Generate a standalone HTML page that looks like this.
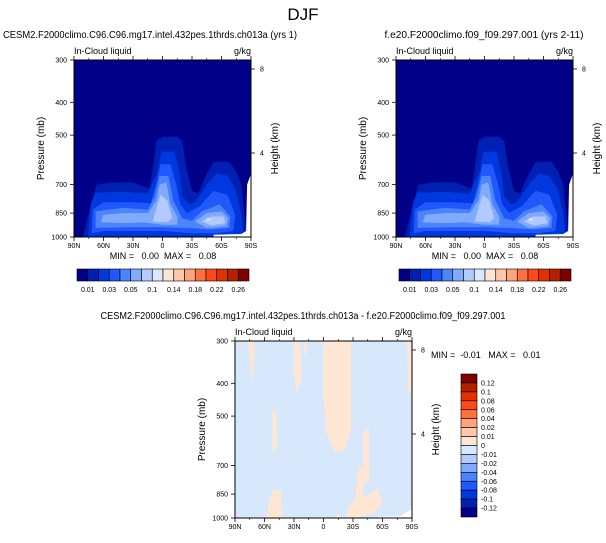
<!DOCTYPE html>
<html><head><meta charset="utf-8"><style>
body{margin:0;background:#fff;width:606px;height:538px;overflow:hidden}
svg text{font-family:"Liberation Sans",Arial,sans-serif;fill:#000}
.pre{white-space:pre}
</style></head><body>
<svg id="s" width="606" height="538" xmlns="http://www.w3.org/2000/svg">
<text x="303" y="20" font-size="17" text-anchor="middle">DJF</text>
</svg>
<script>
// colour scales
const absTickLabels=["0.01","0.03","0.05","0.1","0.14","0.18","0.22","0.26"];
const diffLabels=["0.12","0.1","0.08","0.06","0.04","0.02","0.01","0","-0.01","-0.02","-0.04","-0.06","-0.08","-0.1","-0.12"];
const palette=["#000088","#0020b4","#0038e0","#2058fc","#4c84fc","#82aafc","#b2cafe","#d8e8fe","#fee4d2","#fec6aa","#fea47a","#fe7040","#fe4a18","#e03200","#b42000","#800000"];
const latTicks=["90N","60N","30N","0","30S","60S","90S"];
const latVals=[90,60,30,0,-30,-60,-90];
const presTicks=[300,400,500,700,850,1000];
const heightTicks=[8,4];
// contour regions of the climatology: [lat, pressure] points, level index into palette
const fieldLevels=[1,2,3,4,5,5,6,6,7];
const fieldShapes=[
[[81,1000],[75,850],[67,700],[50,690],[30,690],[13,720],[9,600],[6,520],[0,505],[-15,505],[-20,520],[-24,620],[-30,730],[-36,745],[-45,650],[-52,600],[-68,600],[-75,640],[-80,700],[-84,900],[-86,1000]],
[[76,1000],[73,800],[68,740],[40,735],[15,745],[5,640],[1,560],[-12,560],[-17,640],[-20,760],[-28,800],[-33,790],[-45,700],[-55,650],[-66,660],[-74,720],[-80,850],[-82,960],[-80,995],[-40,995],[20,995],[60,995]],
[[72,975],[71,830],[60,790],[30,790],[12,795],[6,690],[2,610],[-8,610],[-14,700],[-18,800],[-25,850],[-38,810],[-52,730],[-66,750],[-74,860],[-72,960],[-55,975],[-30,975],[0,960],[30,960],[60,960]],
[[68,940],[68,840],[40,820],[15,830],[8,760],[3,660],[-6,660],[-11,780],[-20,880],[-30,895],[-40,840],[-58,800],[-69,870],[-68,940],[-50,950],[-25,940],[0,935],[30,935]],
[[63,905],[60,860],[40,850],[15,850],[6,780],[3,700],[-4,690],[-8,800],[-15,870],[-15,920],[0,920],[20,905],[40,910]],
[[-33,900],[-45,850],[-60,840],[-67,880],[-65,930],[-45,940]],
[[10,900],[6,820],[2,750],[-5,780],[-10,880],[-5,905]],
[[-40,900],[-50,870],[-62,870],[-64,910],[-50,925]],
[[-45,880],[-49,880],[-49,895],[-45,895]]
];
const missingShape=[[-52,1000],[-52,985],[-80,980],[-85,960],[-86,700],[-90,650],[-90,1000]];
// difference field positive patches
const diffShapes=[
[[0,300],[-28,300],[-28,550],[-22,630],[-12,640],[-3,560],[0,450]],
[[77,300],[70,300],[70,330],[73,400],[75,360]],
[[30,300],[24,300],[22,380],[27,430],[30,380]],
[[20,300],[17,300],[17,330],[19,335]],
[[52,480],[48,480],[47,620],[52,640]],
[[58,1000],[55,880],[50,820],[43,830],[42,1000]],
[[-23,1000],[-25,930],[-32,880],[-36,700],[-42,720],[-40,870],[-55,820],[-60,900],[-52,960],[-40,990],[-30,1000]],
[[-40,560],[-46,540],[-47,780],[-41,780]],
[[-85,300],[-90,300],[-90,420],[-86,430]],
[[-10,1000],[-14,975],[-17,1000]]
];
const diffMissing=[[-55,1000],[-55,992],[-78,988],[-90,940],[-90,1000]];

const NS="http://www.w3.org/2000/svg", S=document.getElementById('s');
function el(tag,attrs,parent,txt){const e=document.createElementNS(NS,tag);for(const k in attrs)e.setAttribute(k,attrs[k]);if(txt!==undefined)e.textContent=txt;(parent||S).appendChild(e);return e;}

function panel(L,T,W,H,name,subtitle,fill){
  const g=el('g',{});
  
  
  const xs=lat=>L+(90-lat)/180*W;
  const ys=p=>T+(Math.log(p)-Math.log(300))/(Math.log(1000)-Math.log(300))*H;
  const pts=sh=>sh.map(q=>xs(q[0]).toFixed(1)+','+ys(q[1]).toFixed(1)).join(' ');
  const bg=el('rect',{x:L,y:T,width:W,height:H,fill:fill.bg},g);
  
  
  fill.shapes.forEach((sh,i)=>{const p=el('polygon',{points:pts(sh),fill:fill.color(i),'stroke-linejoin':'round'},g);
    
    });
  const m=el('polygon',{points:pts(fill.missing),fill:'#fff'},g);
  
  
  el('rect',{x:L,y:T,width:W,height:H,fill:'none',stroke:'#000','stroke-width':1},g);
  latVals.forEach((v,i)=>{const x=xs(v);
    el('line',{x1:x,y1:T+H,x2:x,y2:T+H+4,stroke:'#000','stroke-width':0.8},g);
    el('line',{x1:x,y1:T,x2:x,y2:T-4,stroke:'#000','stroke-width':0.8},g);
    const t=el('text',{x:x,y:T+H+11,'font-size':7,'text-anchor':'middle'},g,latTicks[i]);
    
    });
  for(let v=75;v>-90;v-=15){if(v%30===0)continue;const x=xs(v);
    el('line',{x1:x,y1:T+H,x2:x,y2:T+H+2,stroke:'#000','stroke-width':0.6},g);
    el('line',{x1:x,y1:T,x2:x,y2:T-2,stroke:'#000','stroke-width':0.6},g);}
  presTicks.forEach(p=>{const y=ys(p);
    el('line',{x1:L,y1:y,x2:L-4,y2:y,stroke:'#000','stroke-width':0.8},g);
    const t=el('text',{x:L-7,y:y+2.5,'font-size':7,'text-anchor':'end'},g,String(p));
    
    });
  heightTicks.forEach(h=>{const p=1000*Math.exp(-h/7);const y=ys(p);
    el('line',{x1:L+W,y1:y,x2:L+W+4,y2:y,stroke:'#000','stroke-width':0.8},g);
    const t=el('text',{x:L+W+9,y:y+2.5,'font-size':7},g,String(h));
    
    });
  let t=el('text',{transform:`translate(${L-30},${T+H/2}) rotate(-90)`,'font-size':10,'text-anchor':'middle'},g,'Pressure (mb)');
  
  
  t=el('text',{transform:`translate(${L+W+27},${T+H/2}) rotate(-90)`,'font-size':10,'text-anchor':'middle'},g,'Height (km)');
  
  
  t=el('text',{x:L,y:T-6,'font-size':9},g,'In-Cloud liquid');
  
  
  t=el('text',{x:L+W,y:T-6,'font-size':9,'text-anchor':'end'},g,'g/kg');
  
  
  t=el('text',{x:subtitle[1]-subtitle[2]/2,y:T-22,'font-size':10,textLength:subtitle[2],lengthAdjust:'spacingAndGlyphs'},g,subtitle[0]);
  
  
}

function hbar(L,T,W,H,name){
  const g=el('g',{});
  
  
  const n=palette.length,w=W/n;
  palette.forEach((c,i)=>{const r=el('rect',{x:L+i*w,y:T,width:w,height:H,fill:c,stroke:'#000','stroke-width':0.6},g);
    
    });
  absTickLabels.forEach((s,i)=>{const t=el('text',{x:L+(2*i+1)*w,y:T+H+11,'font-size':7,'text-anchor':'middle'},g,s);
    
    });
}
function vbar(L,T,W,H,name){
  const g=el('g',{});
  
  
  const n=palette.length,h=H/n;
  palette.slice().reverse().forEach((c,i)=>{const r=el('rect',{x:L,y:T+i*h,width:W,height:h,fill:c,stroke:'#000','stroke-width':0.6},g);
    
    });
  diffLabels.forEach((s,i)=>{const t=el('text',{x:L+W+4,y:T+(i+1)*h+2.5,'font-size':7},g,s);
    
    });
}

const topFill={bg:palette[0],shapes:fieldShapes,color:i=>palette[fieldLevels[i]],missing:missingShape};
panel(74,60,177,177,'model-panel',['CESM2.F2000climo.C96.C96.mg17.intel.432pes.1thrds.ch013a (yrs 1)',150,294],topFill);
panel(396,60,177,177,'obs-panel',['f.e20.F2000climo.f09_f09.297.001 (yrs 2-11)',484,199],topFill);
panel(235,341,177,177,'diff-panel',['CESM2.F2000climo.C96.C96.mg17.intel.432pes.1thrds.ch013a - f.e20.F2000climo.f09_f09.297.001',303,405],
  {bg:'#d8e8fc',shapes:diffShapes,color:()=>'#fde6d4',missing:diffMissing});
hbar(77,269,172,12,'model-colorbar');
hbar(399,269,172,12,'obs-colorbar');
vbar(461,374,16,143,'diff-colorbar');
let t=el('text',{x:163,y:259,'font-size':9,'text-anchor':'middle',class:'pre'},S,'MIN =   0.00  MAX =   0.08');


t=el('text',{x:485,y:259,'font-size':9,'text-anchor':'middle',class:'pre'},S,'MIN =   0.00  MAX =   0.08');


t=el('text',{x:431,y:358,'font-size':9,class:'pre'},S,'MIN =  -0.01   MAX =   0.01');


</script>
</body></html>
